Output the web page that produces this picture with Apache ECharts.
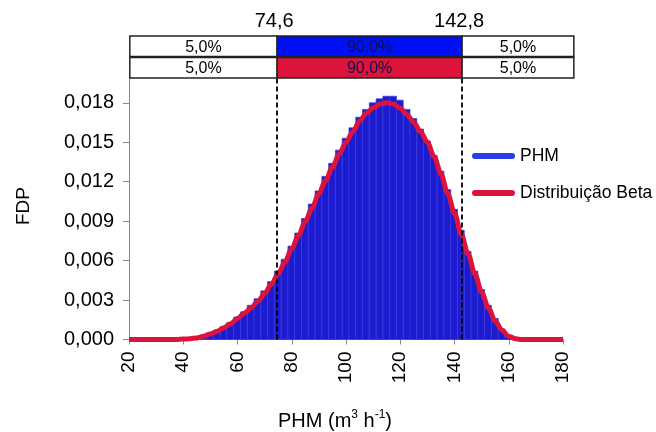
<!DOCTYPE html>
<html><head><meta charset="utf-8">
<script src="https://cdn.jsdelivr.net/npm/echarts@6/dist/echarts.min.js"></script>
<style>html,body{margin:0;padding:0;background:#fff}#c{width:656px;height:432px}</style>
</head><body><div id="c"></div>
<script>
// ---- data ----
const binCenters = [37.35, 39.85, 42.35, 44.85, 47.35, 49.85, 52.35, 54.85, 57.35, 59.85,
  62.35, 64.85, 67.35, 69.85, 72.35, 74.85, 77.35, 79.85, 82.35, 84.85,
  87.35, 89.85, 92.35, 94.85, 97.35, 99.85, 102.35, 104.85, 107.35, 109.85,
  112.35, 114.85, 117.35, 119.85, 122.35, 124.85, 127.35, 129.85, 132.35, 134.85,
  137.35, 139.85, 142.35, 144.85, 147.35, 149.85, 152.35, 154.85, 157.35, 159.85, 162.35];
const phmDensity = [0.00002, 0.00005, 0.0001, 0.00016, 0.0003, 0.00048, 0.0007, 0.00098, 0.0013, 0.0017,
  0.0021, 0.0026, 0.0031, 0.0037, 0.0044, 0.0052, 0.0061, 0.0071, 0.0081, 0.0092,
  0.0103, 0.0113, 0.0124, 0.0134, 0.0144, 0.0153, 0.0161, 0.0169, 0.0175, 0.0180,
  0.0183, 0.0185, 0.0185, 0.0182, 0.0175, 0.0168, 0.0160, 0.0151, 0.0140, 0.0128,
  0.0114, 0.0099, 0.0083, 0.0067, 0.0052, 0.0038, 0.0026, 0.0016, 0.0008, 0.0003, 0.00008];
const binWidth = 2.5;

const betaX = [20, 22.5, 25, 27.5, 30, 32.5, 35, 37.5, 40, 42.5, 45, 47.5, 50, 52.5, 55, 57.5,
  60, 62.5, 65, 67.5, 70, 72.5, 75, 77.5, 80, 82.5, 85, 87.5, 90, 92.5, 95, 97.5,
  100, 102.5, 105, 107.5, 110, 112.5, 115, 117.5, 120, 122.5, 125, 127.5, 130, 132.5, 135, 137.5,
  140, 142.5, 145, 147.5, 150, 152.5, 155, 157.5, 160, 162.5, 165, 167.5, 170, 172.5, 175, 177.5, 180];
const betaDensity = [0, 0, 0, 0, 0, 0, 0, 0, 0.00003, 0.00006, 0.00012, 0.00025, 0.00042, 0.00063, 0.0009, 0.0012,
  0.0016, 0.0020, 0.0024, 0.0029, 0.0035, 0.0042, 0.0050, 0.0059, 0.0069, 0.0079, 0.0090, 0.0100, 0.0111, 0.0121, 0.0131, 0.0141,
  0.0150, 0.0158, 0.0166, 0.0172, 0.0176, 0.0179, 0.0180, 0.0179, 0.0176, 0.0171, 0.0165, 0.0158, 0.0150, 0.0139, 0.0126, 0.0111,
  0.0096, 0.0080, 0.0065, 0.0050, 0.0036, 0.0024, 0.0014, 0.0007, 0.00025, 0.00005, 0, 0, 0, 0, 0, 0, 0];

const quantiles = [74.6, 142.8];
const quantileLabels = ['74,6', '142,8'];
const segmentLabels = ['5,0%', '90,0%', '5,0%'];
const seriesNames = ['PHM', 'Distribuição Beta'];
const yTicks = [0, 0.003, 0.006, 0.009, 0.012, 0.015, 0.018];
const xTickMin = 20, xTickMax = 180, xTickStep = 20;

// ---- styling / layout ----
const FONT = '"Liberation Sans", Arial, sans-serif';
const BLUE_BAR = '#1c1cce';
const BLUE_LEGEND = '#2a3ce6';
const BLUE_BOX = '#0010f5';
const RED = '#dc143c';
const Y_MAX = 0.0199;
const boxSpan = [20.3, 184];   // horizontal extent of the percentage boxes
const rowTop = [36, 57.5];
const rowH = 20.5;
const midColors = [BLUE_BOX, RED];

const chart = echarts.init(document.getElementById('c'), null, {renderer: 'canvas'});

const boxData = [];
for (let r = 0; r < 2; r++) for (let s = 0; s < 3; s++) boxData.push([r, s]);

const capsule = 'path://M3,0H40A3,3,0,0,1,40,6H3A3,3,0,0,1,3,0Z';

chart.setOption({
  animation: false,
  backgroundColor: '#fff',
  grid: {left: 129, right: 93, top: 339.5 - Y_MAX * 13150, bottom: 92.5, containLabel: false},
  legend: {
    orient: 'vertical', left: 467, top: 142,
    itemWidth: 43, itemHeight: 6, itemGap: 19,
    textStyle: {fontFamily: FONT, fontSize: 17.5, color: '#000'},
    data: [
      {name: seriesNames[0], icon: capsule, itemStyle: {color: BLUE_LEGEND, borderWidth: 0}},
      {name: seriesNames[1], icon: capsule, itemStyle: {color: RED, borderWidth: 0}}
    ]
  },
  xAxis: {
    type: 'value', min: xTickMin, max: xTickMax, interval: xTickStep,
    axisLine: {show: true, lineStyle: {color: '#888', width: 1}},
    axisTick: {show: true, length: 5, lineStyle: {color: '#888'}},
    axisLabel: {rotate: 90, margin: 12, fontFamily: FONT, fontSize: 19, color: '#000'},
    splitLine: {show: false}
  },
  yAxis: {
    type: 'value', min: 0, max: Y_MAX,
    axisLine: {show: true, lineStyle: {color: '#888', width: 1}},
    axisTick: {show: true, length: 6, lineStyle: {color: '#888'}, customValues: yTicks},
    axisLabel: {
      customValues: yTicks, margin: 15, fontFamily: FONT, fontSize: 20, color: '#000',
      formatter: v => v.toFixed(3).replace('.', ',')
    },
    splitLine: {show: false}
  },
  graphic: [
    {type: 'text', left: 14, top: 187, rotation: Math.PI / 2,
      style: {text: 'FDP', font: '19px ' + FONT, fill: '#000'}, z: 10},
    {type: 'text', x: 335, y: 421,
      style: {
        text: '{a|PHM (m}{s|3}{a| h}{s|-1}{a|)}',
        align: 'center', verticalAlign: 'middle',
        rich: {
          a: {fontFamily: FONT, fontSize: 20, color: '#000', lineHeight: 24},
          s: {fontFamily: FONT, fontSize: 12, color: '#000', lineHeight: 24, padding: [0, 0, 12, 0]}
        }
      }, z: 10}
  ],
  series: [
    {
      name: seriesNames[0], type: 'custom', coordinateSystem: 'cartesian2d', z: 2,
      data: binCenters.map((c, i) => [c, phmDensity[i]]),
      renderItem: (params, api) => {
        const c = api.value(0), h = api.value(1);
        const p0 = api.coord([c - binWidth / 2, h]);
        const p1 = api.coord([c + binWidth / 2, 0]);
        return {type: 'rect',
          shape: {x: p0[0], y: p0[1], width: p1[0] - p0[0], height: p1[1] - p0[1]},
          style: {fill: BLUE_BAR, stroke: '#3838e6', lineWidth: 0.7}};
      },
      markLine: {
        silent: true, symbol: 'none', label: {show: false},
        lineStyle: {color: '#000', type: [5, 3], width: 1.8},
        data: quantiles.map(q => [{coord: [q, 0]}, {coord: [q, Y_MAX]}])
      }
    },
    {
      name: seriesNames[1], type: 'line', z: 3,
      data: betaX.map((x, i) => [x, betaDensity[i]]),
      smooth: 0.3, smoothMonotone: 'x', showSymbol: false, symbol: 'none',
      lineStyle: {color: RED, width: 5}, itemStyle: {color: RED}
    },
    {
      type: 'custom', coordinateSystem: 'cartesian2d', z: 5, silent: true,
      data: boxData,
      renderItem: (params, api) => {
        const r = api.value(0), s = api.value(1);
        const edges = [boxSpan[0], quantiles[0], quantiles[1], boxSpan[1]];
        const x0 = api.coord([edges[s], 0])[0];
        const x1 = api.coord([edges[s + 1], 0])[0];
        const fill = s === 1 ? midColors[r] : '#fff';
        return {type: 'group', children: [
          {type: 'rect', shape: {x: x0, y: rowTop[r], width: x1 - x0, height: rowH},
            style: {fill: fill, stroke: '#222', lineWidth: 1.5}},
          {type: 'text', style: {x: (x0 + x1) / 2, y: rowTop[r] + rowH / 2 + 1,
            text: segmentLabels[s], align: 'center', verticalAlign: 'middle',
            font: '16px ' + FONT, fill: s === 1 ? '#10104a' : '#000'}}
        ]};
      }
    },
    {
      type: 'custom', coordinateSystem: 'cartesian2d', z: 5, silent: true,
      data: quantiles.map((q, i) => [q, i]),
      renderItem: (params, api) => {
        const q = api.value(0), i = api.value(1);
        const x = api.coord([q, 0])[0];
        return {type: 'text', style: {x: x - 3, y: 21, text: quantileLabels[i],
          align: 'center', verticalAlign: 'middle', font: '20px ' + FONT, fill: '#000'}};
      }
    }
  ]
});
</script></body></html>
